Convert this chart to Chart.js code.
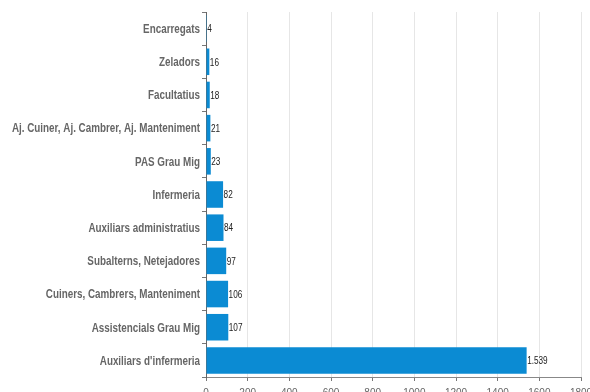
<!DOCTYPE html>
<html><head><meta charset="utf-8">
<script src="https://cdn.jsdelivr.net/npm/chart.js@4"></script>
<style>html,body{margin:0;padding:0;background:#fff}#wrap{width:590px;height:392px}</style>
</head><body><div id="wrap"><canvas id="c" width="590" height="392"></canvas></div>
<script>
const categories = ["Encarregats","Zeladors","Facultatius","Aj. Cuiner, Aj. Cambrer, Aj. Manteniment","PAS Grau Mig","Infermeria","Auxiliars administratius","Subalterns, Netejadores","Cuiners, Cambrers, Manteniment","Assistencials Grau Mig","Auxiliars d'infermeria"];
const values = [4,16,18,21,23,82,84,97,106,107,1539];
const xTicks = [0,200,400,600,800,1000,1200,1400,1600,1800];

const NARROW = 0.82;
const labelPlugin = {
  id:'barLabels',
  afterDatasetsDraw(chart){
    const ctx = chart.ctx;
    const meta = chart.getDatasetMeta(0);
    const yScale = chart.scales.y;
    ctx.save();
    ctx.font = '10px "Liberation Sans", Arial, sans-serif';
    ctx.fillStyle = '#222';
    ctx.textBaseline = 'middle';
    ctx.textAlign = 'left';
    meta.data.forEach((bar,i)=>{
      const t = values[i].toLocaleString('de-DE');
      ctx.save();
      ctx.translate(bar.x + 0.5, bar.y + 1);
      ctx.scale(NARROW,1);
      ctx.fillText(t, 0, 0);
      ctx.restore();
    });
    ctx.font = 'bold 12px "Liberation Sans", Arial, sans-serif';
    ctx.fillStyle = '#666';
    ctx.textAlign = 'right';
    categories.forEach((c,i)=>{
      const y = yScale.getPixelForTick(i);
      ctx.save();
      ctx.translate(yScale.right - 6, y + 1);
      ctx.scale(NARROW,1);
      ctx.fillText(c, 0, 0);
      ctx.restore();
    });
    ctx.restore();
  }
};

new Chart(document.getElementById('c'), {
  type:'bar',
  data:{labels:categories, datasets:[{data:values, backgroundColor:'#0b8bd3', borderWidth:0, barPercentage:0.8, categoryPercentage:1}]},
  options:{
    indexAxis:'y', responsive:false, animation:false,
    layout:{padding:{top:12,right:0,left:0,bottom:-13}},
    plugins:{legend:{display:false}, tooltip:{enabled:false}},
    scales:{
      x:{min:0,max:1800,
        afterBuildTicks(axis){axis.ticks = xTicks.map(v=>({value:v}));},
        afterFit(axis){axis.paddingRight = 9;},
        grid:{color:'#e6e6e6', tickColor:'#777', tickLength:4, drawTicks:true},
        border:{color:'#888'},
        ticks:{color:'#666', font:{size:10, family:'"Liberation Sans", Arial, sans-serif'}, padding:6, maxRotation:0,
          callback:(v)=>String(v)}
      },
      y:{
        afterFit(axis){axis.width = 206;},
        grid:{drawOnChartArea:false, tickColor:'#777', tickLength:4, offset:true},
        border:{color:'#666'},
        ticks:{display:false}
      }
    }
  },
  plugins:[labelPlugin]
});
</script></body></html>
